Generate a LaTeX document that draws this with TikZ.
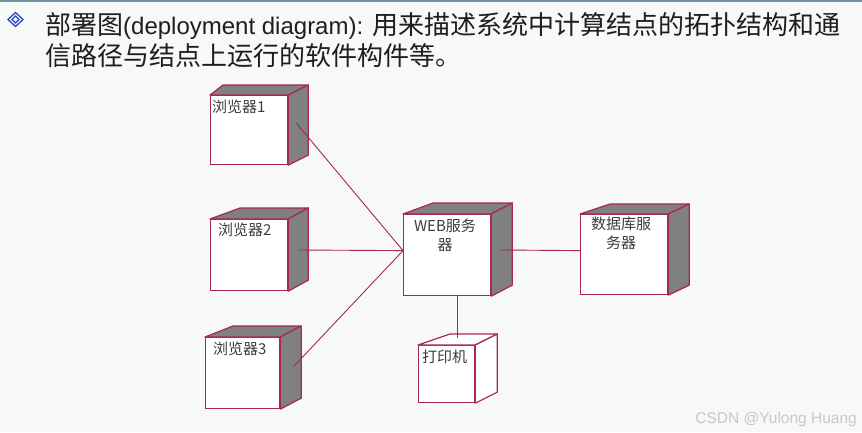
\documentclass[tikz,border=0pt]{standalone}
\usepackage{fontspec}
\setmainfont{Liberation Sans}
\newfontfamily\cjk{Noto Sans CJK SC}
\definecolor{edgec}{RGB}{168,40,78}
\definecolor{sidec}{RGB}{128,128,128}
\definecolor{bgc}{RGB}{247,248,248}
\definecolor{txtc}{RGB}{30,30,30}
\definecolor{lblc}{RGB}{60,60,60}
\definecolor{bulletc}{RGB}{50,70,190}
\definecolor{toplinec}{RGB}{110,150,160}
\definecolor{wmarkc}{RGB}{200,200,200}
\newcommand\deploybox[9]{%
  \node[frontface, minimum width=#4pt, minimum height=#5pt] (#1) at (#2,#3) {};
  \path[#9] (#1.north west) -- ++(#6,-#8) -- ([shift={(#7,-#8)}]#1.north east) -- (#1.north east) -- cycle;
  \path[#9] (#1.north east) -- ([shift={(#7,-#8)}]#1.north east) -- ([shift={(#7,-#8)}]#1.south east) -- (#1.south east) -- cycle;
}
\begin{document}
\begin{tikzpicture}[x=1pt,y=-1pt,
  frontface/.style={draw=edgec, line width=1.2pt, fill=white, rectangle, inner sep=0pt, anchor=north west},
  grayface/.style={draw=edgec, line width=1.2pt, fill=sidec, line join=round},
  whiteface/.style={draw=edgec, line width=1.2pt, fill=white, line join=round},
  link/.style={draw=edgec, line width=0.9pt},
  boxlabel/.style={font=\cjk\fontsize{15}{19}\selectfont, text=lblc, inner sep=0pt},
  titletext/.style={font=\fontsize{24}{30}\selectfont, text=txtc, inner sep=0pt, anchor=base west},
]
\useasboundingbox (0,0) rectangle (862,432);
\fill[bgc] (0,0) rectangle (862,432);
\draw[toplinec, line width=2pt] (0,1) -- (862,1);

% bullet
\draw[bulletc, line width=1.3pt] (15.5,12.5) -- (23,19.5) -- (15.5,26.5) -- (8,19.5) -- cycle;
\draw[bulletc, line width=1.3pt] (15.5,16) -- (19,19.5) -- (15.5,23) -- (12,19.5) -- cycle;

% title
\node[titletext] (t1) at (45,34) {{\cjk\fontsize{26}{30}\selectfont 部署图}(deployment diagram): {\cjk\fontsize{26}{30}\selectfont 用来描述系统中计算结点的拓扑结构和通}};
\node[titletext] (t2) at (45,65) {{\cjk\fontsize{26}{30}\selectfont 信路径与结点上运行的软件构件等。}};

% boxes
\deploybox{b1}{210}{95}{77}{69}{13}{20}{10}{grayface}
\deploybox{b2}{210}{219}{77}{71}{30}{20}{11}{grayface}
\deploybox{b3}{205}{337}{74}{71}{28}{21}{11}{grayface}
\deploybox{web}{403}{214}{87}{81}{30}{21}{11}{grayface}
\deploybox{db}{580}{214}{87}{80}{30}{21}{10}{grayface}
\deploybox{prn}{418}{345}{56}{57}{32}{22}{11}{whiteface}

% labels
\node[boxlabel, anchor=base west] (l1) at (212,112) {浏览器1};
\node[boxlabel, anchor=base west] (l2) at (218,235) {浏览器2};
\node[boxlabel, anchor=base west] (l3) at (213,354) {浏览器3};
\node[boxlabel, anchor=base west] (l4) at (422,362) {打印机};
\node[boxlabel, anchor=north, align=center] (l5) at (445,219) {WEB服务\\器};
\node[boxlabel, anchor=north, align=center] (l6) at (621,217) {数据库服\\务器};

% connector end points
\coordinate (b1p) at ([shift={(8,28)}]b1.north east);
\coordinate (b2p) at ([shift={(10,31)}]b2.north east);
\coordinate (b3p) at ([shift={(13,30)}]b3.north east);
\coordinate (webin) at ([shift={(0,-4.5)}]web.west);
\coordinate (webout) at ([shift={(10,36)}]web.north east);
\coordinate (dbin) at ([shift={(0,-4)}]db.west);
\coordinate (webdown) at ([shift={(10.5,0)}]web.south);
\coordinate (prtop) at ([shift={(11,-7)}]prn.north);

\draw[link] (b1p) -- (webin);
\draw[link] (b2p) -- (webin);
\draw[link] (b3p) -- (webin);
\draw[link] (webout) -- (dbin);
\draw[link] (webdown) -- (prtop);

% watermark
\node[font=\fontsize{15.5}{16}\selectfont, text=wmarkc, inner sep=0pt, anchor=base east] (wm) at (857,423) {CSDN @Yulong Huang};
\end{tikzpicture}
\end{document}
